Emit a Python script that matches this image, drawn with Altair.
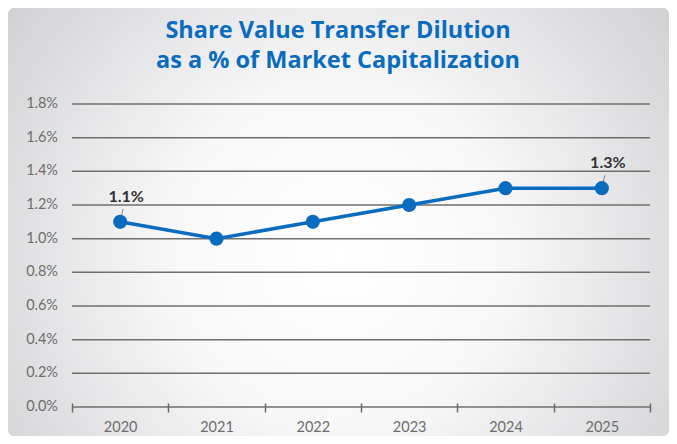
import altair as alt
import pandas as pd

years = ["2020", "2021", "2022", "2023", "2024", "2025"]
values = [1.1, 1.0, 1.1, 1.2, 1.3, 1.3]
label_years = ["2020", "2025"]
label_values = [1.1, 1.3]
label_texts = ["1.1%", "1.3%"]
grid_values = [0.0, 0.2, 0.4, 0.6, 0.8, 1.0, 1.2, 1.4, 1.6, 1.8]
title_lines = ["Share Value Transfer Dilution", "as a % of Market Capitalization"]

W, H = 578, 303

df = pd.DataFrame({"year": years, "value": values})
lab = pd.DataFrame({"year": label_years, "value": label_values, "text": label_texts})
grid_df = pd.DataFrame({"value": grid_values, "label": [f"{v:.1f}%" for v in grid_values]})

x_enc = alt.X("year:N", sort=years, title=None,
              scale=alt.Scale(paddingInner=0, paddingOuter=0),
              axis=alt.Axis(labelAngle=0, tickBand="extent", domain=False, ticks=True,
                            tickSize=9, offset=-4, tickColor="#6a6a6a", tickWidth=1.5,
                            labelPadding=8, labelFont="Lato", labelFontSize=14.5,
                            labelColor="#6d6d6d", grid=False, zindex=1,
                            labelOverlap=False))
y_scale = alt.Scale(domain=[0, 1.8], nice=False)
y_enc = alt.Y("value:Q", title=None, scale=y_scale, axis=None)

bg = alt.Chart(alt.Data(values=[{}])).mark_rect(
    cornerRadius=6,
    fill=alt.Gradient(gradient="radial",
                      stops=[alt.GradientStop(offset=0, color="#ffffff"),
                             alt.GradientStop(offset=0.35, color="#f7f7f8"),
                             alt.GradientStop(offset=1, color="#c3c4c7")],
                      x1=0.5, y1=0.55, x2=0.5, y2=0.55, r1=0, r2=0.75)
).encode(x=alt.value(-64), x2=alt.value(597), y=alt.value(-96), y2=alt.value(332))

title = alt.Chart(alt.Data(values=[{"t": "\n".join(title_lines)}])).mark_text(
    font="Open Sans", fontWeight="bold", fontSize=23.5, color="#0a6cbf",
    align="center", baseline="alphabetic", lineBreak="\n", lineHeight=30
).encode(x=alt.value(266), y=alt.value(-66), text="t:N")

grid = alt.Chart(grid_df).mark_rule(color="#6f6f6f", strokeWidth=1.5).encode(
    y=y_enc, x=alt.value(0), x2=alt.value(W))
ylabels = alt.Chart(grid_df).mark_text(
    font="Lato", fontSize=14.5, color="#6d6d6d", align="right", baseline="middle"
).encode(y=y_enc, x=alt.value(-14), text="label:N")

base = alt.Chart(df)
line = base.mark_line(color="#0a6cbf", strokeWidth=3.5).encode(x=x_enc, y=y_enc)
pts = base.mark_circle(color="#0a6cbf", size=200, opacity=1).encode(x=x_enc, y=y_enc)

leader = alt.Chart(lab).mark_rule(color="#8a8a8a", strokeWidth=1,
                                  xOffset=3, x2Offset=0, yOffset=-13, y2Offset=-1).encode(
    x=alt.X("year:N", sort=years), x2="year:N",
    y=y_enc, y2="value:Q")
texts = alt.Chart(lab).mark_text(font="Lato", fontWeight="bold", fontSize=16, color="#333333",
                                 dx=6, dy=-25).encode(
    x=alt.X("year:N", sort=years), y=y_enc, text="text:N")

chart = alt.layer(bg, title, grid, ylabels, line, leader, pts, texts).properties(
    width=W, height=H,
    autosize=alt.AutoSizeParams(type="none"),
    padding={"left": 64, "top": 96, "right": 19, "bottom": 29},
).configure_view(stroke=None)

chart.save("out.html", embed_options={"renderer": "svg", "actions": False})
